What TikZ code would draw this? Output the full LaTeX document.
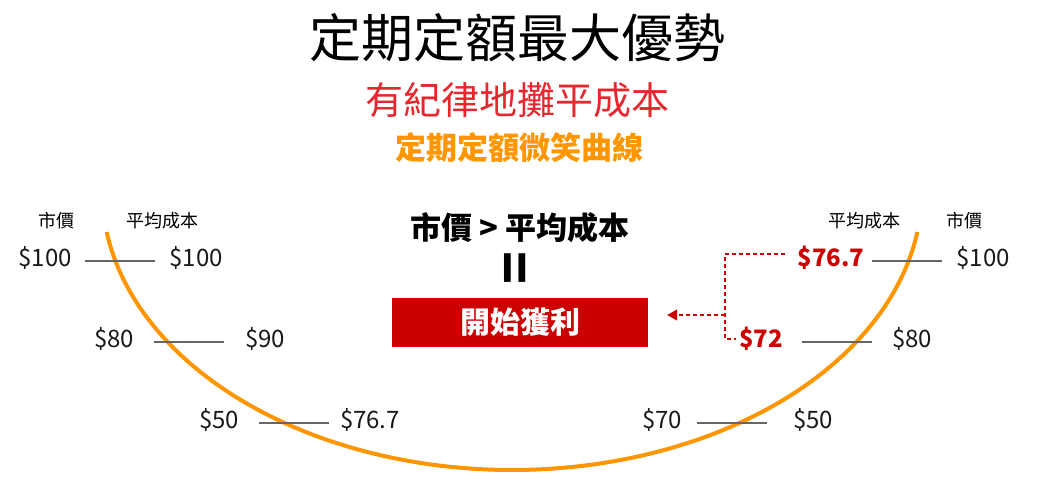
\documentclass[tikz,border=0pt]{standalone}
\usepackage{fontspec}
\setmainfont{Noto Sans CJK TC}
\usetikzlibrary{positioning,arrows.meta,calc}
\definecolor{smile}{HTML}{FF9600}
\definecolor{gain}{HTML}{CC0000}
\definecolor{lead}{HTML}{E8262E}
\tikzset{
  price/.style={font=\fontsize{24}{28}\selectfont, text=black!90},
  hot/.style={font=\fontsize{24}{28}\selectfont\bfseries, text=gain},
  head/.style={font=\fontsize{18}{21}\selectfont},
  tick/.style={draw=black!60, line width=1.3pt},
  curve/.style={draw=smile, line width=4pt},
  box/.style={fill=gain, text=white, font=\fontsize{30}{34}\selectfont\bfseries, minimum width=256pt, minimum height=49pt, inner sep=0pt},
  fl/.style={draw=gain, line width=1.2pt, dash pattern=on 4pt off 3pt},
}
\begin{document}
\begin{tikzpicture}[x=1pt, y=-1pt]
\useasboundingbox (0,0) rectangle (1038,488);
\node[font=\fontsize{52}{60}\selectfont] (title) at (517,38) {定期定額最大優勢};
\node[font=\fontsize{38}{44}\selectfont, text=lead] (sub) at (517,100) {有紀律地攤平成本};
\node[font=\fontsize{31}{36}\selectfont\bfseries, text=smile] (tag) at (519,148) {定期定額微笑曲線};
\draw[curve] plot[domain=8.63:171.37, samples=120] ({512+410*cos(\x)}, {190+280*sin(\x)});
\node[head] (hmL) at (56,221) {市價};
\node[head] (haL) at (162,221) {平均成本};
\node[head] (haR) at (864,221) {平均成本};
\node[head] (hmR) at (964,221) {市價};
\foreach \lx/\ly in {85/261, 154/342, 259/423, 872/261, 802/342, 697/423}
  \draw[tick] (\lx,\ly) -- ++(70,0);
\node[price] (m100) at (45,258) {\$100};
\node[price] (a100) at (196,258) {\$100};
\node[price] (m80) at (114,339) {\$80};
\node[price] (a90) at (265,339) {\$90};
\node[price] (m50) at (219,420) {\$50};
\node[price] (a767) at (370,420) {\$76.7};
\node[hot] (p767) at (831,258) {\$76.7};
\node[price] (q100) at (983,258) {\$100};
\node[hot] (p72) at (761,339) {\$72};
\node[price] (q80) at (912,339) {\$80};
\node[price] (p70) at (662,420) {\$70};
\node[price] (q50) at (813,420) {\$50};
\node[font=\fontsize{31}{36}\selectfont\bfseries] (rule) at (520,228) {市價 > 平均成本};
\node[font=\fontsize{54}{60}\selectfont\bfseries, rotate=90] (eq) at (520,268) {=};
\node[box] (profit) at (520,322.5) {開始獲利};
\coordinate (jn) at (725,315);
\draw[fl, shorten <=9pt] ([yshift=4pt]p767.west) -| (jn) |- (p72.west);
\draw[fl, -{Triangle[length=10pt,width=11pt]}, shorten >=19pt] (jn) -- (jn -| profit.east);
\end{tikzpicture}
\end{document}
